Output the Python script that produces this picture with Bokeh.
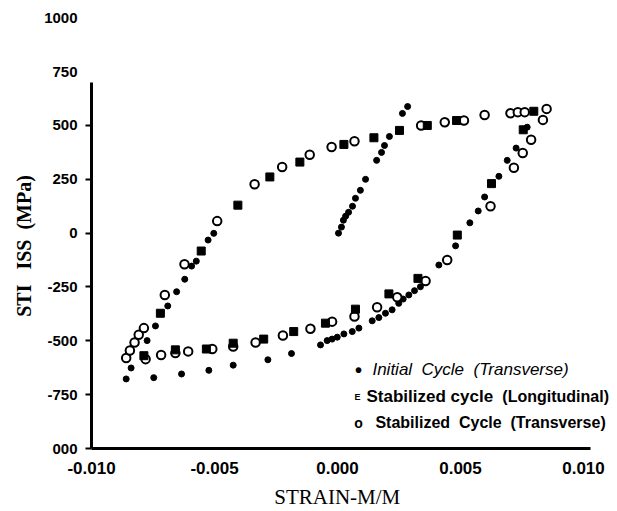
import math
from bokeh.plotting import figure
from bokeh.models import Label, FixedTicker, PrintfTickFormatter, Range1d, LinearAxis
from bokeh.embed import file_html
from bokeh.resources import INLINE

# ---- data (strain in m/m, stress in MPa) ----
initial_strain = [0.00004, 0.00016, 0.00024, 0.00033, 0.00045, 0.00061, 0.00073, 0.00093, 0.00114,
                  0.00159, 0.00179, 0.00191, 0.00211, 0.00264, 0.00285,
                  0.00771, 0.00726, 0.00690, 0.00656, 0.00598, 0.00572, 0.00538, 0.00480, 0.00412,
                  0.00337, 0.00313, 0.00290, 0.00267, 0.00249, 0.00222, 0.00195, 0.00168, 0.00141,
                  0.00087, 0.00060, 0.00026, -0.00001, -0.00022, -0.00042, -0.00069, -0.00187,
                  -0.00283, -0.00424, -0.00523, -0.00634, -0.00747, -0.00859, -0.00839, -0.00774,
                  -0.00740, -0.00690, -0.00654, -0.00621, -0.00593, -0.00574, -0.00526, -0.00503]
initial_stress = [0, 28, 60, 79, 97, 125, 162, 199, 250,
                  338, 375, 407, 449, 556, 588,
                  492, 395, 338, 264, 168, 103, 48, -59, -148,
                  -249, -267, -287, -306, -326, -356, -372, -392, -407,
                  -441, -457, -468, -483, -492, -499, -519, -559,
                  -588, -613, -637, -654, -671, -677, -626, -499,
                  -431, -338, -272, -214, -153, -130, -32, -1]

long_strain = [-0.00554, -0.00405, -0.00275, -0.00153, 0.00026, 0.00148, 0.00252, 0.00365, 0.00484,
               0.00798, 0.00755, 0.00626, 0.00487, 0.00327, 0.00209, 0.00073, -0.00049, -0.00178,
               -0.00300, -0.00424, -0.00533, -0.00659, -0.00787, -0.00720]
long_stress = [-83, 130, 261, 330, 412, 443, 477, 500, 523,
               566, 480, 230, -9, -210, -282, -353, -418, -457,
               -492, -511, -538, -542, -569, -372]

trans_strain = [-0.00859, -0.00844, -0.00825, -0.00808, -0.00787, -0.00702, -0.00622, -0.00489,
                -0.00337, -0.00225, -0.00113, -0.00024, 0.00069, 0.00340, 0.00436, 0.00514,
                0.00598, 0.00703, 0.00733, 0.00761, 0.00850, 0.00835, 0.00787, 0.00753, 0.00717,
                0.00622, 0.00446, 0.00358, 0.00243, 0.00161, 0.00069, -0.00022, -0.00110,
                -0.00222, -0.00333, -0.00424, -0.00509, -0.00607, -0.00659, -0.00717, -0.00780]
trans_stress = [-580, -545, -508, -472, -441, -287, -144, 56,
                227, 307, 364, 400, 427, 500, 515, 523,
                549, 557, 562, 562, 577, 526, 434, 372, 304,
                125, -125, -222, -298, -344, -387, -411, -444,
                -475, -508, -526, -538, -549, -557, -566, -585]

x_ticks = [-0.010, -0.005, 0.0, 0.005, 0.010]
y_ticks = [-1000, -750, -500, -250, 0, 250, 500]
y_label_ticks = [-1000, -750, -500, -250, 0, 250, 500, 750, 1000]

NB = "\u00a0"
legend_texts = ["Initial" + NB + " Cycle" + NB + " (Transverse)", "Stabilized cycle", "(Longitudinal)",
                "Stabilized" + NB + " Cycle" + NB + " (Transverse)"]
x_title = "STRAIN-M/M"
y_title = "STI" + NB * 2 + " ISS" + NB + " (MPa)"

SANS = "Liberation Sans"
SERIF = "Liberation Serif"

p = figure(width=617, height=511, output_backend="svg", toolbar_location=None,
           x_range=Range1d(-0.010, 0.01126), y_range=Range1d(-1000, 1020))
p.min_border_left = 91
p.min_border_right = 3
p.min_border_top = 13
p.min_border_bottom = 62
p.outline_line_color = None
p.xgrid.visible = False
p.ygrid.visible = False
p.background_fill_color = "white"
p.border_fill_color = "white"

# x axis (line stops at the 0.010 end, frame wider to leave room for the legend text)
xa = p.xaxis[0]
xa.ticker = FixedTicker(ticks=x_ticks)
xa.formatter = PrintfTickFormatter(format="%.3f")
xa.bounds = (-0.010, 0.0103)
xa.axis_line_width = 3
xa.axis_line_color = "black"
xa.major_tick_out = 0
xa.major_tick_in = 0
xa.minor_tick_out = 0
xa.minor_tick_in = 0
xa.major_label_text_font = SANS
xa.major_label_text_font_style = "bold"
xa.major_label_text_font_size = "17px"
xa.major_label_text_color = "black"
xa.major_label_standoff = 13
# trailing no-break spaces move the centred title under the 0.000 tick like the original
xa.axis_label = x_title + NB * 6
xa.axis_label_text_font = SERIF
xa.axis_label_text_font_style = "normal"
xa.axis_label_text_font_size = "21px"
xa.axis_label_text_color = "black"
xa.axis_label_standoff = 8

# inner y axis: line and tick marks only
ya = p.yaxis[0]
ya.ticker = FixedTicker(ticks=y_ticks)
ya.bounds = (-1000, 700)
ya.major_label_overrides = {t: "" for t in y_ticks}
ya.major_label_standoff = 0
ya.major_label_text_font_size = "1px"
ya.axis_line_width = 3
ya.axis_line_color = "black"
ya.major_tick_out = 6
ya.major_tick_in = 0
ya.major_tick_line_width = 2
ya.minor_tick_out = 0
ya.minor_tick_in = 0

# outer y axis: tick labels (including 750 and 1000 above the axis line) and title
ya2 = LinearAxis(ticker=FixedTicker(ticks=y_label_ticks), formatter=PrintfTickFormatter(format="%d"))
ya2.major_label_overrides = {-1000: "000"}
ya2.axis_line_color = None
ya2.major_tick_line_color = None
ya2.major_tick_out = 0
ya2.major_tick_in = 0
ya2.minor_tick_out = 0
ya2.minor_tick_in = 0
ya2.major_label_text_font = SANS
ya2.major_label_text_font_style = "bold"
ya2.major_label_text_font_size = "15px"
ya2.major_label_text_color = "black"
ya2.major_label_standoff = 8
ya2.axis_label = y_title + NB * 6
ya2.axis_label_text_font = SERIF
ya2.axis_label_text_font_style = "bold"
ya2.axis_label_text_font_size = "20px"
ya2.axis_label_text_color = "black"
ya2.axis_label_standoff = 6
p.add_layout(ya2, "left")

# data marks
p.scatter(initial_strain, initial_stress, marker="circle", size=6, fill_color="black",
          line_color="black")
p.scatter(trans_strain, trans_stress, marker="circle", size=8.5, fill_color="white",
          line_color="black", line_width=2)
p.scatter(long_strain, long_stress, marker="square", size=8, fill_color="black",
          line_color="black", line_width=1)

# legend (text as in the scanned figure)
def lab(x, y, text, size, style="bold", align="left"):
    p.add_layout(Label(x=x, y=y, text=text, text_align=align, text_baseline="middle",
                       text_font=SANS, text_font_style=style, text_font_size=size,
                       text_color="black"))

lab(0.00085, -634, "\u2022", "20px", "bold", "center")
lab(0.00142, -634, legend_texts[0], "17px", "italic")
lab(0.00081, -759, "E", "9px", "bold", "center")
lab(0.00118, -759, legend_texts[1], "17px", "bold")
lab(0.00670, -759, legend_texts[2], "16px", "bold")
lab(0.00085, -880, "o", "14px", "bold", "center")
lab(0.00154, -880, legend_texts[3], "16px", "bold")

open("out.html", "w").write(file_html(p, INLINE))
